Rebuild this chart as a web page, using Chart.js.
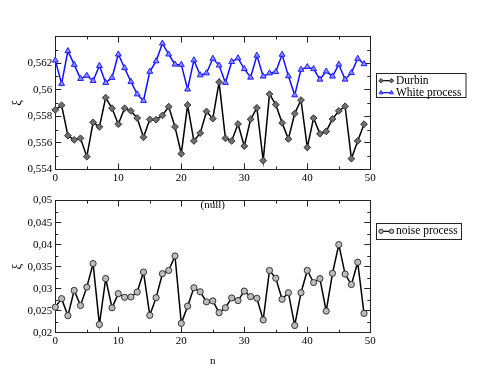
<!DOCTYPE html>
<html>
<head>
<meta charset="utf-8">
<script src="https://cdn.jsdelivr.net/npm/chart.js@4.4.1/dist/chart.umd.min.js"></script>
<style>
  html, body { margin: 0; padding: 0; background: #fff; }
  #wrap { position: relative; width: 479px; height: 370px; }
  canvas { position: absolute; left: 0; }
  #chartTop { top: 0; }
  #chartBottom { top: 185px; }
</style>
</head>
<body>
<div id="wrap">
  <canvas id="chartTop" width="479" height="185"></canvas>
  <canvas id="chartBottom" width="479" height="185"></canvas>
</div>
<script>
// indeks n
const nValues = [0, 1, 2, 3, 4, 5, 6, 7, 8, 9,
  10, 11, 12, 13, 14, 15, 16, 17, 18, 19,
  20, 21, 22, 23, 24, 25, 26, 27, 28, 29,
  30, 31, 32, 33, 34, 35, 36, 37, 38, 39,
  40, 41, 42, 43, 44, 45, 46, 47, 48, 49];

const durbin = [0.55848, 0.55882, 0.55654, 0.55622, 0.55634, 0.55496, 0.55754, 0.5572, 0.5594, 0.5586,
  0.5574, 0.5586, 0.5584, 0.55786, 0.55642, 0.55776, 0.55774, 0.55806, 0.55872, 0.5572,
  0.55518, 0.55884, 0.55614, 0.55673, 0.55836, 0.55782, 0.56057, 0.55634, 0.55614, 0.55742,
  0.55575, 0.55777, 0.55863, 0.55466, 0.55966, 0.55887, 0.5575, 0.55629, 0.5582, 0.55922,
  0.55565, 0.55786, 0.55668, 0.55686, 0.5578, 0.5584, 0.55875, 0.55481, 0.55614, 0.5574];

const whiteProcess = [0.5622, 0.56045, 0.56291, 0.56188, 0.56082, 0.56106, 0.56067, 0.5618, 0.56052, 0.5609,
  0.56266, 0.56163, 0.5606, 0.55966, 0.55917, 0.56136, 0.56215, 0.56348, 0.56266, 0.5619,
  0.56188, 0.56003, 0.56222, 0.56109, 0.56124, 0.56234, 0.56183, 0.56052, 0.5621, 0.56237,
  0.56156, 0.56092, 0.56257, 0.561, 0.56124, 0.56134, 0.56264, 0.56102, 0.55959, 0.56151,
  0.56171, 0.56156, 0.56077, 0.56138, 0.561, 0.5619, 0.56077, 0.56126, 0.56234, 0.56193];

const noiseProcess = [0.0258, 0.02774, 0.02387, 0.0296, 0.02618, 0.03035, 0.0357, 0.02186, 0.03228, 0.02566,
  0.02886, 0.02804, 0.02811, 0.02923, 0.03377, 0.02394, 0.02796, 0.0334, 0.03414, 0.03742,
  0.02212, 0.02603, 0.0302, 0.0293, 0.027, 0.02722, 0.02454, 0.02566, 0.02789, 0.0273,
  0.02945, 0.02819, 0.02782, 0.0229, 0.03414, 0.03236, 0.02759, 0.02908, 0.02164, 0.02908,
  0.03414, 0.03139, 0.03228, 0.02491, 0.03347, 0.04, 0.03332, 0.03094, 0.036, 0.02439];

const xRange = [0, 50];
const topRange = [0.554, 0.564];
const bottomRange = [0.02, 0.05];

const FONT = 'Liberation Serif';
const toPoints = (vals) => vals.map((v, i) => ({ x: nValues[i], y: v }));
const fmt = (v) => Number(v.toFixed(4)).toString().replace('.', ',');

function frameAxes(yMin, yMax, yStep, hideTop, xHeight, xTitle) {
    const tickGrid = {
        display: true,
        drawOnChartArea: false,
        drawTicks: true,
        tickLength: -6,
        color: '#222',
        tickColor: '#222'
    };
    const border = { display: true, color: '#222', width: 1 };
    return {
        x: {
            type: 'linear', position: 'bottom', min: xRange[0], max: xRange[1],
            grid: tickGrid, border: border,
            ticks: { stepSize: 10, autoSkip: false, maxRotation: 0, padding: 8, color: '#000', font: { family: FONT, size: 11 } },
            title: xTitle,
            afterFit: (s) => { s.height = xHeight; }
        },
        x2: {
            type: 'linear', position: 'top', min: xRange[0], max: xRange[1],
            grid: tickGrid, border: border,
            ticks: { stepSize: 10, display: false },
            afterFit: (s) => { s.height = 0; }
        },
        y: {
            type: 'linear', position: 'left', min: yMin, max: yMax,
            grid: tickGrid, border: border,
            ticks: {
                stepSize: yStep, padding: 9, color: '#000', font: { family: FONT, size: 11 },
                callback: (v) => (hideTop && Math.abs(v - yMax) < 1e-7) ? '' : fmt(v)
            },
            title: { display: true, text: 'ξ', color: '#000', font: { family: FONT, size: 13 }, padding: { top: 10, bottom: 0 } },
            afterFit: (s) => { s.width = 55.3; }
        },
        y2: {
            type: 'linear', position: 'right', min: yMin, max: yMax,
            grid: tickGrid, border: border,
            ticks: { stepSize: yStep, display: false },
            afterFit: (s) => { s.width = 0; }
        }
    };
}

// tick kecil di antara tick utama
function minorTicks(xStep, yStep) {
    return {
        id: 'minorTicks',
        afterDraw(chart) {
            const { ctx, chartArea: a } = chart;
            const sx = chart.scales.x, sy = chart.scales.y;
            ctx.save();
            ctx.strokeStyle = '#222';
            ctx.lineWidth = 1;
            ctx.beginPath();
            for (let v = sx.min + xStep; v < sx.max; v += 2 * xStep) {
                const px = Math.round(sx.getPixelForValue(v)) + 0.5;
                ctx.moveTo(px, a.bottom); ctx.lineTo(px, a.bottom - 3);
                ctx.moveTo(px, a.top); ctx.lineTo(px, a.top + 3);
            }
            for (let v = sy.min + yStep; v < sy.max; v += 2 * yStep) {
                const py = Math.round(sy.getPixelForValue(v)) + 0.5;
                ctx.moveTo(a.left, py); ctx.lineTo(a.left + 3, py);
                ctx.moveTo(a.right, py); ctx.lineTo(a.right - 3, py);
            }
            ctx.stroke();
            ctx.restore();
        }
    };
}

// legenda dengan bingkai seperti Grace
function boxLegend(box, rows, nullTitle) {
    return {
        id: 'boxLegend',
        afterDraw(chart) {
            const ctx = chart.ctx;
            ctx.save();
            ctx.strokeStyle = '#222';
            ctx.lineWidth = 1;
            ctx.strokeRect(box.x, box.y, box.w, box.h);
            chart.data.datasets.forEach((ds, i) => {
                const y = rows[i];
                const x1 = box.x + 4.5, x2 = box.x + 15;
                ctx.strokeStyle = ds.borderColor;
                ctx.lineWidth = 1.2;
                ctx.beginPath(); ctx.moveTo(x1, y); ctx.lineTo(x2, y); ctx.stroke();
                [x1, x2].forEach(px => {
                    ctx.fillStyle = ds.pointBackgroundColor;
                    ctx.strokeStyle = ds.pointBorderColor;
                    ctx.lineWidth = 1;
                    Chart.helpers.drawPoint(ctx, { pointStyle: ds.pointStyle, radius: 2.2, borderWidth: 1, rotation: 0 }, px, y);
                });
                ctx.fillStyle = '#000';
                ctx.font = '11.5px "' + FONT + '"';
                ctx.textAlign = 'left';
                ctx.textBaseline = 'middle';
                ctx.fillText(ds.label, box.x + 19.5, y);
            });
            if (nullTitle) {
                const a = chart.chartArea;
                ctx.fillStyle = '#000';
                ctx.font = '11px "' + FONT + '"';
                ctx.textAlign = 'center';
                ctx.textBaseline = 'top';
                ctx.fillText('(null)', (a.left + a.right) / 2, a.top - 0.5);
            }
            ctx.restore();
        }
    };
}

const ctxTop = document.getElementById('chartTop').getContext('2d');
const ctxBottom = document.getElementById('chartBottom').getContext('2d');

const chartTop = new Chart(ctxTop, {
    type: 'line',
    data: {
        datasets: [
            {
                label: 'Durbin',
                data: toPoints(durbin),
                borderColor: '#000',
                borderWidth: 1.5,
                pointStyle: 'rectRot',
                pointRadius: 3.4,
                pointBackgroundColor: '#6e6e6e',
                pointBorderColor: '#333',
                pointBorderWidth: 1,
                tension: 0,
                clip: false
            },
            {
                label: 'White process',
                data: toPoints(whiteProcess),
                borderColor: '#1010ff',
                borderWidth: 1.5,
                pointStyle: 'triangle',
                pointRadius: 3.4,
                pointBackgroundColor: '#8a8aff',
                pointBorderColor: '#2020ff',
                pointBorderWidth: 1,
                tension: 0,
                clip: false
            }
        ]
    },
    options: {
        responsive: false,
        animation: false,
        layout: { padding: { left: 0, right: 108.7, top: 36.5, bottom: 0 } },
        plugins: { legend: { display: false }, tooltip: { enabled: false } },
        scales: frameAxes(topRange[0], topRange[1], 0.002, true, 13.3, { display: false })
    },
    plugins: [minorTicks(5, 0.001), boxLegend({ x: 376.5, y: 73.5, w: 89.5, h: 24 }, [80.7, 92.7], false)]
});

const chartBottom = new Chart(ctxBottom, {
    type: 'line',
    data: {
        datasets: [
            {
                label: 'noise process',
                data: toPoints(noiseProcess),
                borderColor: '#000',
                borderWidth: 1.5,
                pointStyle: 'circle',
                pointRadius: 3.1,
                pointBackgroundColor: '#bcbcbc',
                pointBorderColor: '#333',
                pointBorderWidth: 1,
                tension: 0,
                clip: false
            }
        ]
    },
    options: {
        responsive: false,
        animation: false,
        layout: { padding: { left: 0, right: 108.7, top: 13.3, bottom: 0 } },
        plugins: { legend: { display: false }, tooltip: { enabled: false } },
        scales: frameAxes(bottomRange[0], bottomRange[1], 0.005, false, 37.3,
            { display: true, text: 'n', color: '#000', font: { family: FONT, size: 11 }, padding: { top: 0, bottom: 2 } })
    },
    plugins: [minorTicks(5, 0.0025), boxLegend({ x: 376.5, y: 38.5, w: 85, h: 16 }, [46.3], true)]
});
</script>
</body>
</html>
